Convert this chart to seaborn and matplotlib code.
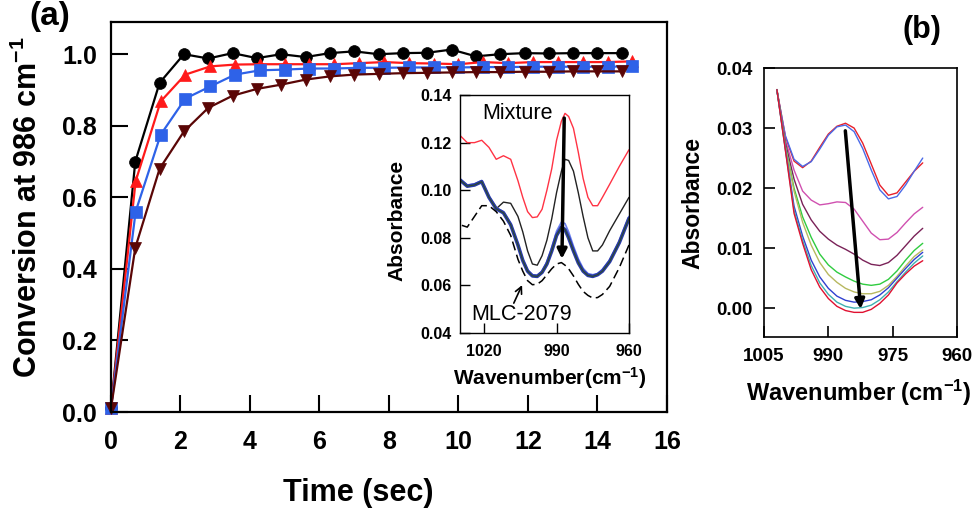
"""
Conversion vs time (a) with FTIR inset, and absorbance spectra (b).
"""

import matplotlib
matplotlib.use("Agg")
import matplotlib.pyplot as plt
import seaborn as sns

# ============================================================
# 数据
# ============================================================
# (a) conversion at 986 cm-1
t_black = [0, 0.7, 1.4, 2.1, 2.8, 3.5, 4.2, 4.9, 5.6, 6.3, 7.0, 7.7,
           8.4, 9.1, 9.8, 10.5, 11.2, 11.9, 12.6, 13.3, 14.0, 14.7]
t_red = [0, 0.71, 1.43, 2.14, 2.86, 3.57, 4.29, 5.0, 5.71, 6.43, 7.14, 7.86,
         8.57, 9.29, 10.0, 10.71, 11.43, 12.14, 12.86, 13.57, 14.29, 15.0]

conv_black = [0.01, 0.70, 0.92, 1.00, 0.988, 1.003, 0.989, 1.0, 0.992, 1.003,
              1.008, 1.0, 1.003, 1.004, 1.013, 0.994, 1.0, 1.003, 1.002,
              1.003, 1.003, 1.003]
conv_red = [0.01, 0.645, 0.868, 0.943, 0.966, 0.971, 0.972, 0.972, 0.972,
            0.972, 0.975, 0.978, 0.975, 0.974, 0.972, 0.978, 0.975, 0.978,
            0.978, 0.978, 0.978, 0.98]
conv_blue = [0.01, 0.56, 0.775, 0.876, 0.91, 0.943, 0.955, 0.957, 0.96, 0.96,
             0.962, 0.962, 0.963, 0.963, 0.963, 0.964, 0.964, 0.965, 0.965,
             0.965, 0.965, 0.966]
conv_brown = [0.01, 0.459, 0.68, 0.784, 0.85, 0.884, 0.903, 0.915, 0.929,
              0.938, 0.943, 0.945, 0.947, 0.948, 0.949, 0.95, 0.95, 0.951,
              0.951, 0.952, 0.952, 0.952]

# inset spectra
w_in = [1030, 1027, 1024, 1021, 1018, 1015, 1012, 1009, 1006, 1004, 1002,
        1000, 998, 996, 994, 992, 990, 988, 986.5, 985, 983, 981, 979, 977,
        975, 973, 971, 968, 964, 960]
abs_mixture = [0.123, 0.120, 0.120, 0.121, 0.118, 0.113, 0.1145, 0.113,
               0.104, 0.097, 0.091, 0.0885, 0.0888, 0.092, 0.100, 0.109,
               0.121, 0.129, 0.1323, 0.131, 0.126, 0.116, 0.105, 0.097,
               0.0935, 0.0935, 0.097, 0.1025, 0.110, 0.117]
abs_mid = [0.1043, 0.1017, 0.1022, 0.1036, 0.097, 0.0922, 0.095, 0.0945,
           0.089, 0.0825, 0.0745, 0.069, 0.0685, 0.0725, 0.079, 0.088, 0.099,
           0.108, 0.113, 0.1125, 0.108, 0.099, 0.089, 0.080, 0.0745, 0.0745,
           0.077, 0.083, 0.090, 0.097]
abs_group = [0.1043, 0.1017, 0.1022, 0.1036, 0.097, 0.0922, 0.0905, 0.0855,
             0.077, 0.0705, 0.066, 0.064, 0.0638, 0.0655, 0.069, 0.0745,
             0.081, 0.0845, 0.0835, 0.080, 0.0745, 0.0695, 0.066, 0.0642,
             0.0638, 0.0645, 0.066, 0.070, 0.078, 0.0882]
abs_group_hi = [0.1048, 0.1022, 0.1027, 0.1041, 0.0975, 0.0927, 0.091, 0.086,
                0.0775, 0.071, 0.0665, 0.0645, 0.0643, 0.066, 0.070, 0.076,
                0.0828, 0.0866, 0.086, 0.0825, 0.0765, 0.0712, 0.0672, 0.065,
                0.0645, 0.065, 0.0668, 0.0708, 0.0788, 0.089]
abs_mlc = [0.0855, 0.0845, 0.089, 0.0935, 0.0935, 0.091, 0.087, 0.081, 0.071,
           0.066, 0.062, 0.0603, 0.0605, 0.062, 0.0645, 0.067, 0.069, 0.0696,
           0.0685, 0.067, 0.064, 0.0605, 0.0575, 0.0558, 0.0547, 0.0549,
           0.0562, 0.0596, 0.0675, 0.077]

# (b) spectra
w_b = [1002, 1000, 998, 996, 994, 992, 990, 988, 986, 984, 982, 980, 978, 976,
       974, 972, 970, 968]
b_spectra = {
    "#e8202a": [0.0364, 0.0285, 0.0245, 0.0234, 0.0245, 0.0268, 0.0290,
                0.0303, 0.0308, 0.0300, 0.0275, 0.0240, 0.0205, 0.0188,
                0.0192, 0.0210, 0.0228, 0.0242],
    "#4a6ae8": [0.0362, 0.0287, 0.0248, 0.0236, 0.0244, 0.0265, 0.0288,
                0.0302, 0.0305, 0.0294, 0.0266, 0.0230, 0.0197, 0.0182,
                0.0186, 0.0205, 0.0228, 0.0250],
    "#d050b0": [0.0364, 0.0280, 0.0230, 0.0195, 0.0180, 0.0172, 0.0174,
                0.0177, 0.0176, 0.0165, 0.0145, 0.0125, 0.0114, 0.0115,
                0.0126, 0.0142, 0.0157, 0.0168],
    "#7a2258": [0.0364, 0.0275, 0.0215, 0.0173, 0.0147, 0.0128, 0.0115,
                0.0105, 0.0098, 0.0090, 0.0080, 0.0073, 0.0071, 0.0076,
                0.0088, 0.0104, 0.0120, 0.0133],
    "#30cc40": [0.0364, 0.0270, 0.0200, 0.0152, 0.0118, 0.0090, 0.0072,
                0.0060, 0.0052, 0.0045, 0.0040, 0.0038, 0.0040, 0.0048,
                0.0062, 0.0080, 0.0096, 0.0108],
    "#b8b860": [0.0364, 0.0268, 0.0195, 0.0143, 0.0105, 0.0076, 0.0056,
                0.0043, 0.0033, 0.0027, 0.0024, 0.0024, 0.0028, 0.0038,
                0.0053, 0.0070, 0.0086, 0.0097],
    "#3040d0": [0.0364, 0.0265, 0.0170, 0.0120, 0.0080, 0.0052, 0.0033,
                0.0020, 0.0013, 0.0010, 0.0011, 0.0014, 0.0022, 0.0034,
                0.0050, 0.0066, 0.0081, 0.0093],
    "#40b0b0": [0.0364, 0.0263, 0.0163, 0.0113, 0.0071, 0.0042, 0.0023,
                0.0010, 0.0003, 0.0000, 0.0001, 0.0005, 0.0014, 0.0027,
                0.0044, 0.0060, 0.0075, 0.0087],
    "#e01030": [0.0364, 0.0262, 0.0158, 0.0108, 0.0064, 0.0035, 0.0016,
                0.0003, -0.0004, -0.0007, -0.0007, -0.0002, 0.0008, 0.0022,
                0.0042, 0.0057, 0.0070, 0.0079],
}

# ============================================================
# 样式
# ============================================================
sns.set_theme(style="ticks")
plt.rcParams["font.family"] = ["Liberation Sans", "DejaVu Sans"]
plt.rcParams["font.weight"] = "bold"
plt.rcParams["axes.labelweight"] = "bold"
plt.rcParams["mathtext.fontset"] = "custom"
plt.rcParams["mathtext.rm"] = "Liberation Sans:bold"
plt.rcParams["mathtext.it"] = "Liberation Sans:bold"
plt.rcParams["mathtext.bf"] = "Liberation Sans:bold"
plt.rcParams["lines.solid_joinstyle"] = "round"
# 纯黑文字与坐标轴
for key in ["axes.edgecolor", "text.color", "axes.labelcolor",
            "xtick.color", "ytick.color"]:
    plt.rcParams[key] = "black"

fig = plt.figure(figsize=(9.75, 5.14), dpi=100)

# ------------------------------------------------------------
# (a) main
# ------------------------------------------------------------
ax = fig.add_axes([0.1138, 0.1984, 0.5703, 0.7588])
series = [
    (t_black, conv_black, "black", "o", 8.5),
    (t_red, conv_red, "#ff1a1a", "^", 9),
    (t_red, conv_blue, "#2e62e8", "s", 8),
    (t_black, conv_brown, "#5a0606", "v", 9),
]
for tx, cy, col, mk, ms in series:
    sns.lineplot(x=tx, y=cy, ax=ax, color=col, marker=mk, markersize=ms,
                 markeredgecolor=col, markeredgewidth=0.5, linewidth=1.6,
                 clip_on=False)

ax.set_xlim(0, 16)
ax.set_ylim(0, 1.09)
ax.set_xticks(range(0, 17, 2))
ax.set_yticks([0, 0.2, 0.4, 0.6, 0.8, 1.0])
ax.set_yticklabels(["0.0", "0.2", "0.4", "0.6", "0.8", "1.0"])
ax.tick_params(axis="both", direction="in", length=12, width=1.5,
               labelsize=18)
ax.tick_params(axis="x", pad=13)
ax.tick_params(axis="y", pad=10)
for sp in ax.spines.values():
    sp.set_linewidth(1.6)
ax.set_xlabel("Time (sec)", fontsize=22, va="center")
ax.set_ylabel("Conversion at 986 cm$^{-1}$", fontsize=22, va="center")
ax.xaxis.set_label_coords(0.444, -0.208)
ax.yaxis.set_label_coords(-0.149, 0.526)

# ------------------------------------------------------------
# inset
# ------------------------------------------------------------
ax_in = fig.add_axes([0.4718, 0.3521, 0.1733, 0.463])
ax_in.set_facecolor("white")
sns.lineplot(x=w_in, y=abs_mixture, ax=ax_in, color="#ff3344", linewidth=1.0)
sns.lineplot(x=w_in, y=abs_mid, ax=ax_in, color="#222222", linewidth=1.0)
sns.lineplot(x=w_in, y=abs_group_hi, ax=ax_in, color="#6a80f0", linewidth=1.2)
sns.lineplot(x=w_in, y=abs_group, ax=ax_in, color="#2a3aa8", linewidth=2.6)
sns.lineplot(x=w_in, y=abs_group, ax=ax_in, color="#2a4a2a", linewidth=0.8)
sns.lineplot(x=w_in, y=abs_mlc, ax=ax_in, color="black", linewidth=1.1,
             dashes=False, linestyle=(0, (6, 3)))

ax_in.set_xlim(1030, 960)
ax_in.set_ylim(0.04, 0.14)
ax_in.set_xticks([1020, 990, 960])
ax_in.set_yticks([0.04, 0.06, 0.08, 0.10, 0.12, 0.14])
ax_in.set_yticklabels(["0.04", "0.06", "0.08", "0.10", "0.12", "0.14"])
ax_in.tick_params(axis="both", direction="in", length=7, width=1.0,
                  labelsize=11.5)
ax_in.tick_params(axis="x", pad=8)
ax_in.tick_params(axis="y", pad=6)
for sp in ax_in.spines.values():
    sp.set_linewidth(1.0)
ax_in.set_xlabel("Wavenumber(cm$^{-1}$)", fontsize=15, va="center")
ax_in.set_ylabel("Absorbance", fontsize=15, va="center")
ax_in.xaxis.set_label_coords(0.53, -0.19)
ax_in.yaxis.set_label_coords(-0.373, 0.475)

ax_in.text(1006.3, 0.1323, "Mixture", ha="center", va="center",
           fontsize=15.5, fontweight="normal")
ax_in.text(1004.5, 0.0477, "MLC-2079", ha="center", va="center",
           fontsize=15.5, fontweight="normal")
ax_in.annotate("", xy=(987.8, 0.0700), xytext=(986.8, 0.1315),
               arrowprops=dict(arrowstyle="-|>", color="black", lw=2.5,
                               mutation_scale=14))
ax_in.annotate("", xy=(1003.8, 0.0612), xytext=(1008.2, 0.0515),
               arrowprops=dict(arrowstyle="->", color="black", lw=1.2,
                               mutation_scale=12))

# ------------------------------------------------------------
# (b)
# ------------------------------------------------------------
ax_b = fig.add_axes([0.7836, 0.3444, 0.198, 0.5233])
for col, vals in b_spectra.items():
    sns.lineplot(x=w_b, y=vals, ax=ax_b, color=col, linewidth=1.0)

ax_b.set_xlim(1005, 960)
ax_b.set_ylim(-0.0048, 0.04)
ax_b.set_xticks([1005, 990, 975, 960])
ax_b.set_yticks([0.0, 0.01, 0.02, 0.03, 0.04])
ax_b.set_yticklabels(["0.00", "0.01", "0.02", "0.03", "0.04"])
ax_b.tick_params(axis="both", direction="in", length=8, width=1.2,
                 labelsize=13.5, pad=8)
for sp in ax_b.spines.values():
    sp.set_linewidth(1.2)
ax_b.set_xlabel("Wavenumber (cm$^{-1}$)", fontsize=17, va="center")
ax_b.set_ylabel("Absorbance", fontsize=16.5, va="center")
ax_b.xaxis.set_label_coords(0.49, -0.208)
ax_b.yaxis.set_label_coords(-0.368, 0.498)
ax_b.annotate("", xy=(982.4, -0.0006), xytext=(986.1, 0.0300),
              arrowprops=dict(arrowstyle="-|>", color="black", lw=2.5,
                              mutation_scale=14))

# panel letters
fig.text(50 / 975, 1 - 16 / 514, "(a)", fontsize=24, ha="center",
         va="center")
fig.text(922 / 975, 1 - 30 / 514, "(b)", fontsize=22, ha="center",
         va="center")

fig.savefig("out.png", dpi=100)
